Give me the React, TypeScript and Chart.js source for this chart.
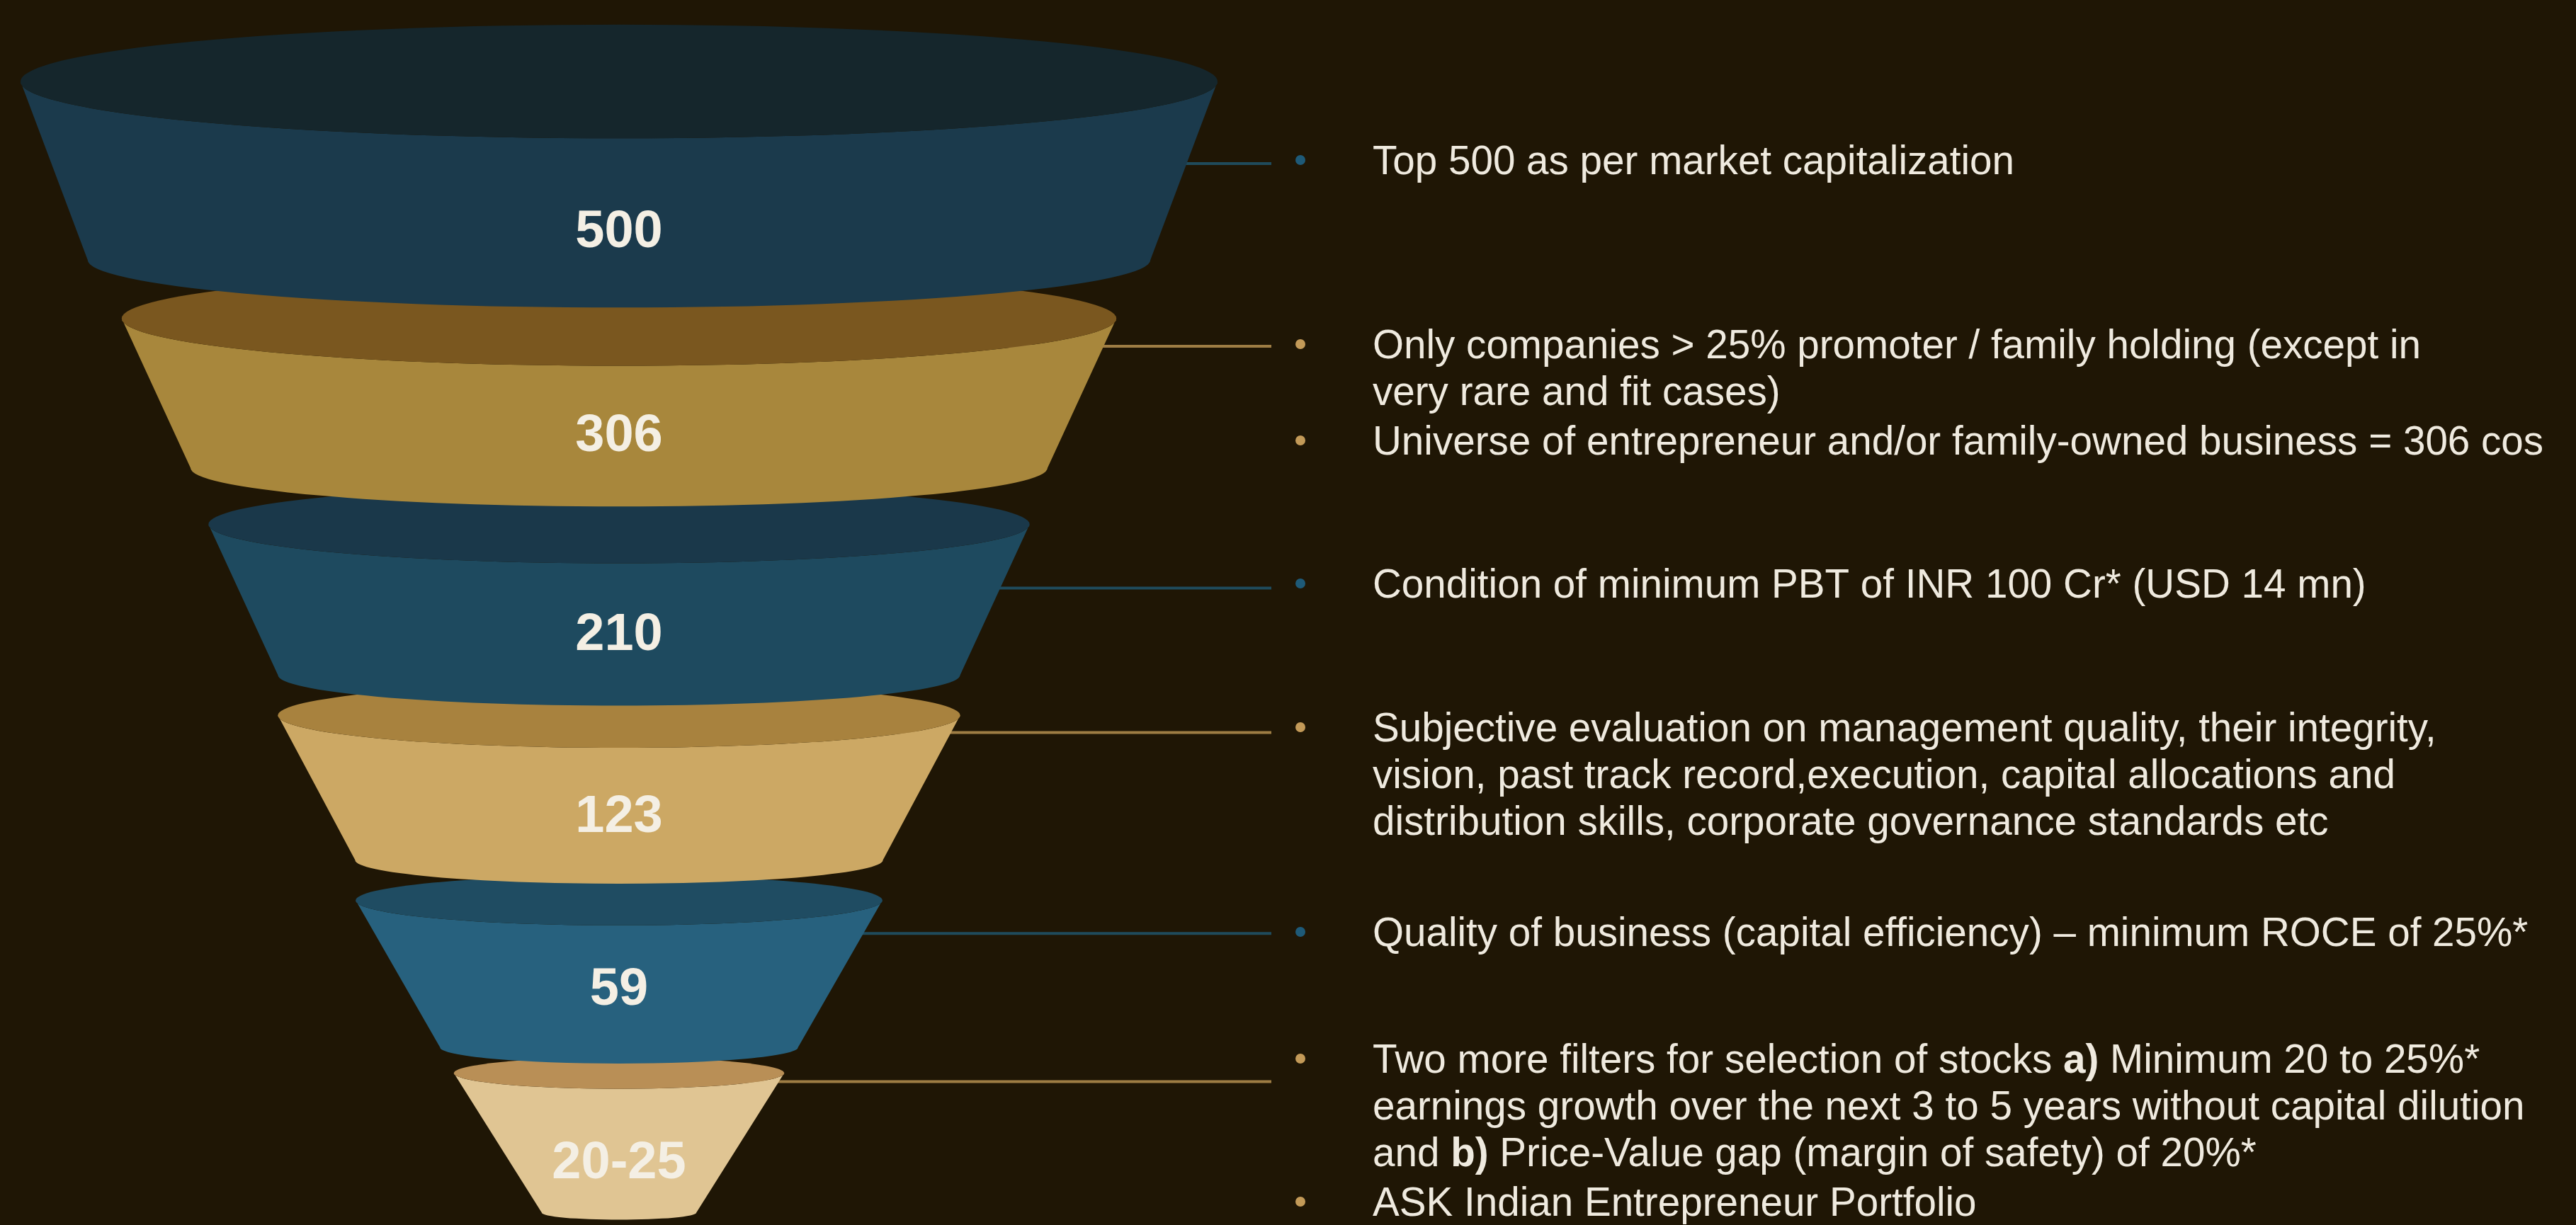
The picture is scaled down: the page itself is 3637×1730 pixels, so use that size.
import React, { useEffect, useRef } from 'react';
import { Chart, registerables } from 'chart.js';

Chart.register(...registerables);

// ---------- data ----------
const stageLabels = ['500', '306', '210', '123', '59', '20-25'];
const stageCounts = [500, 306, 210, 123, 59, 25];
// funnel shape in axis units (x: -100..100 half-widths, y: 0..100 depth)
const topHalfWidth = [100, 83.1, 68.6, 57.0, 44.0, 27.6];
const bottomHalfWidth = [88.8, 71.6, 57.0, 44.1, 29.9, 12.9];
const topLevel = [6.65, 26.0, 42.8, 58.4, 73.5, 87.6];
const bottomLevel = [21.2, 38.2, 55.1, 70.2, 85.5, 99.0];
const labelLevel = [18.75, 35.4, 51.65, 66.5, 80.6, 94.8];
const connectorLevel = [13.35, 28.27, 48.0, 59.8, 76.2, 88.3];

const notes: string[][][] = [
  [['Top 500 as per market capitalization']],
  [
    ['Only companies > 25% promoter / family holding (except in', 'very rare and fit cases)'],
    ['Universe of entrepreneur and/or family-owned business = 306 cos'],
  ],
  [['Condition of minimum PBT of INR 100 Cr* (USD 14 mn)']],
  [
    [
      'Subjective evaluation on management quality, their integrity,',
      'vision, past track record,execution, capital allocations and',
      'distribution skills, corporate governance standards etc',
    ],
  ],
  [['Quality of business (capital efficiency) \u2013 minimum ROCE of 25%*']],
  [
    [
      'Two more filters for selection of stocks **a)** Minimum 20 to 25%*',
      'earnings growth over the next 3 to 5 years without capital dilution',
      'and **b)** Price-Value gap (margin of safety) of 20%*',
    ],
    ['ASK Indian Entrepreneur Portfolio'],
  ],
];

// ---------- styles / layout ----------
const BG = '#1f1605';
const sideColors = ['#1b3a4c', '#a8873c', '#1e4a5f', '#cca864', '#27617e', '#e0c593'];
const capColors = ['#15262c', '#7a571f', '#1a384a', '#a8823e', '#1f4c62', '#b98f56'];
const lineColors = ['#1f4b5c', '#9e7d44', '#1f4b5c', '#9e7d44', '#1f4b5c', '#9e7d44'];
const bulletColors = ['#1e5a78', '#c39a58', '#1e5a78', '#c39a58', '#1e5a78', '#c39a58'];
const FONT = "'Liberation Sans', Arial, Helvetica, sans-serif";
const W = 3637;
const H = 1730;
const LINE_END_X = 1795;
const BULLET_X = 1836;
const TEXT_X = 1938;
const NOTE_BASELINE = [246, 506, 844, 1047, 1336, 1515];
const LINE_HEIGHT = 66;
const PARA_GAP = 4;
const TOP_RATIO = 0.095;
const BOTTOM_RATIO = 0.09;

const funnelPlugin = {
  id: 'funnelPlugin',
  beforeDraw(chart: any) {
    const ctx = chart.ctx;
    ctx.save();
    ctx.fillStyle = BG;
    ctx.fillRect(0, 0, chart.width, chart.height);
    ctx.restore();
  },
  beforeDatasetsDraw(chart: any) {
    const ctx = chart.ctx;
    const xs = chart.scales.x;
    const ys = chart.scales.y;
    const cx = xs.getPixelForValue(0);
    ctx.save();
    // connectors (behind funnel)
    connectorLevel.forEach((lv, i) => {
      const py = ys.getPixelForValue(lv);
      ctx.strokeStyle = lineColors[i];
      ctx.lineWidth = 4;
      ctx.beginPath();
      ctx.moveTo(cx, py);
      ctx.lineTo(LINE_END_X, py);
      ctx.stroke();
    });
    // frusta, bottom first so upper ones overlap
    for (let i = stageLabels.length - 1; i >= 0; i--) {
      const rxT = xs.getPixelForValue(topHalfWidth[i]) - cx;
      const rxB = xs.getPixelForValue(bottomHalfWidth[i]) - cx;
      const cyT = ys.getPixelForValue(topLevel[i]);
      const cyB = ys.getPixelForValue(bottomLevel[i]);
      const ryT = rxT * TOP_RATIO;
      const ryB = rxB * BOTTOM_RATIO;
      ctx.fillStyle = sideColors[i];
      ctx.beginPath();
      ctx.moveTo(cx - rxT, cyT);
      ctx.lineTo(cx - rxB, cyB);
      ctx.ellipse(cx, cyB, rxB, ryB, 0, Math.PI, 0, true);
      ctx.lineTo(cx + rxT, cyT);
      ctx.ellipse(cx, cyT, rxT, ryT, 0, 0, Math.PI, false);
      ctx.closePath();
      ctx.fill();
      ctx.fillStyle = capColors[i];
      ctx.beginPath();
      ctx.ellipse(cx, cyT, rxT, ryT, 0, 0, Math.PI * 2);
      ctx.fill();
    }
    ctx.restore();
  },
  afterDatasetsDraw(chart: any) {
    const ctx = chart.ctx;
    const xs = chart.scales.x;
    const ys = chart.scales.y;
    const cx = xs.getPixelForValue(0);
    ctx.save();
    // stage labels on the front face
    ctx.fillStyle = '#f4efe4';
    ctx.font = `bold 74px ${FONT}`;
    ctx.textAlign = 'center';
    ctx.textBaseline = 'middle';
    stageLabels.forEach((lab, i) => {
      ctx.fillText(lab, cx, ys.getPixelForValue(labelLevel[i]) + 4);
    });
    // notes
    ctx.textAlign = 'left';
    ctx.textBaseline = 'alphabetic';
    notes.forEach((group, gi) => {
      let base = NOTE_BASELINE[gi];
      group.forEach((para) => {
        ctx.fillStyle = bulletColors[gi];
        ctx.beginPath();
        ctx.arc(BULLET_X, base - 20, 7, 0, Math.PI * 2);
        ctx.fill();
        para.forEach((line) => {
          const parts = line.split('**');
          let px = TEXT_X;
          parts.forEach((part, pi) => {
            ctx.font = `${pi % 2 === 1 ? 'bold ' : ''}56.6px ${FONT}`;
            ctx.fillStyle = '#efeadf';
            ctx.fillText(part, px, base);
            px += ctx.measureText(part).width;
          });
          base += LINE_HEIGHT;
        });
        base += PARA_GAP;
      });
    });
    ctx.restore();
  },
};

export default function App() {
  const ref = useRef<HTMLCanvasElement | null>(null);
  useEffect(() => {
    document.body.style.margin = '0';
    document.body.style.background = BG;
    const canvas = ref.current;
    if (!canvas) return;
    const chart = new Chart(canvas, {
      type: 'scatter',
      data: {
        datasets: [
          {
            label: 'Companies',
            data: stageCounts.map((c, i) => ({ x: 0, y: labelLevel[i], count: c })) as any,
            pointRadius: 0,
            pointHoverRadius: 0,
          },
        ],
      },
      options: {
        animation: false,
        responsive: false,
        devicePixelRatio: 1,
        events: [],
        layout: { padding: { left: 29, right: W - 1719, top: 0, bottom: 0 } },
        scales: {
          x: { type: 'linear', min: -100, max: 100, display: false },
          y: { type: 'linear', min: 0, max: 100, reverse: true, display: false },
        },
        plugins: { legend: { display: false }, tooltip: { enabled: false } },
      },
      plugins: [funnelPlugin],
    });
    return () => chart.destroy();
  }, []);
  return (
    <div style={{ width: W, height: H, background: BG }}>
      <canvas ref={ref} width={W} height={H} style={{ display: 'block', width: W, height: H }} />
    </div>
  );
}
